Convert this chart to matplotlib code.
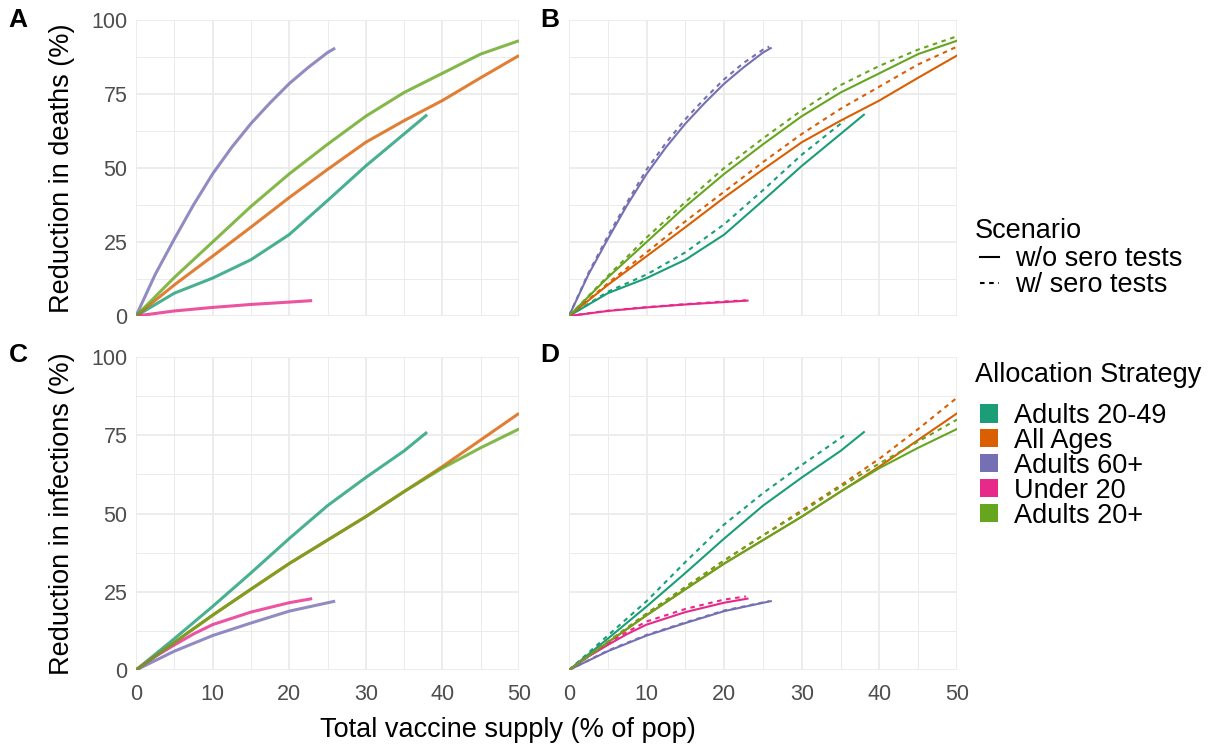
import numpy as np
import matplotlib
matplotlib.use("Agg")
import matplotlib.pyplot as plt
from matplotlib.lines import Line2D
from matplotlib.patches import Patch

plt.rcParams["font.family"] = ["Liberation Sans", "DejaVu Sans"]

# Allocation strategies and colours (Dark2)
strategies = ["Adults 20-49", "All Ages", "Adults 60+", "Under 20", "Adults 20+"]
colors = ["#1B9E77", "#D95F02", "#7570B3", "#E7298A", "#66A61E"]
scenarios = ["w/o sero tests", "w/ sero tests"]

# Reduction in deaths, without serological tests
deaths_x_2049 = [0, 5, 10, 15, 20, 25, 30, 35, 38]
deaths_y_2049 = [0, 7.7, 12.8, 19, 27.5, 39, 50.7, 61.5, 68]
deaths_x_all = [0, 5, 10, 15, 20, 25, 30, 35, 40, 45, 50]
deaths_y_all = [0, 10.5, 20.2, 30, 40, 49.5, 58.7, 66, 72.8, 80.5, 88]
deaths_x_60 = [0, 2.5, 5, 7.5, 10, 12.5, 15, 17.5, 20, 22.5, 25, 26]
deaths_y_60 = [0, 14, 26, 37.5, 48, 57, 65, 72, 78.5, 84, 89, 90.5]
deaths_x_u20 = [0, 5, 10, 15, 20, 23]
deaths_y_u20 = [0, 1.7, 2.9, 3.9, 4.7, 5.2]
deaths_x_20p = [0, 5, 10, 15, 20, 25, 30, 35, 40, 45, 50]
deaths_y_20p = [0, 13, 25, 37, 48, 58, 67.5, 75.5, 82, 88.5, 93]

# Reduction in deaths, with serological tests
deaths_sero_x_2049 = [0, 5, 10, 15, 20, 25, 30, 35.5]
deaths_sero_y_2049 = [0, 8.2, 14, 21.5, 31, 42.5, 54.5, 66]
deaths_sero_x_all = [0, 5, 10, 15, 20, 25, 30, 35, 40, 45, 50]
deaths_sero_y_all = [0, 11, 21.5, 32, 42, 52, 61.5, 70, 77.5, 85, 91]
deaths_sero_x_60 = [0, 2.5, 5, 7.5, 10, 12.5, 15, 17.5, 20, 22.5, 25, 25.8]
deaths_sero_y_60 = [0, 14.5, 27, 38.5, 49.5, 58.5, 66.5, 73.5, 80, 85.5, 90, 91]
deaths_sero_x_u20 = [0, 5, 10, 15, 20, 22.8]
deaths_sero_y_u20 = [0, 1.8, 3.0, 4.0, 4.9, 5.3]
deaths_sero_x_20p = [0, 5, 10, 15, 20, 25, 30, 35, 40, 45, 50]
deaths_sero_y_20p = [0, 13.5, 26.5, 38.5, 50, 60, 69.5, 78, 84.5, 90, 94.5]

# Reduction in infections, without serological tests
inf_x_2049 = [0, 5, 10, 15, 20, 25, 30, 35, 38]
inf_y_2049 = [0, 10, 20.3, 31, 42, 52.5, 61.5, 70, 76]
inf_x_all = [0, 5, 10, 15, 20, 25, 30, 35, 40, 45, 50]
inf_y_all = [0, 8.8, 17.5, 25.8, 34, 41.5, 49, 57, 65, 73.5, 82]
inf_x_60 = [0, 5, 10, 15, 20, 26]
inf_y_60 = [0, 6, 11, 15, 18.8, 22]
inf_x_u20 = [0, 2.5, 5, 7.5, 10, 15, 20, 23]
inf_y_u20 = [0, 4.3, 8, 11.5, 14.5, 18.5, 21.5, 22.8]
inf_x_20p = [0, 5, 10, 15, 20, 25, 30, 35, 40, 45, 50]
inf_y_20p = [0, 8.8, 17.5, 25.8, 34, 41.5, 49, 57, 64.5, 71, 77]

# Reduction in infections, with serological tests
inf_sero_x_2049 = [0, 5, 10, 15, 20, 25, 30, 35.5]
inf_sero_y_2049 = [0, 11, 22, 34.5, 46.5, 56.5, 65.5, 75]
inf_sero_x_all = [0, 5, 10, 15, 20, 25, 30, 35, 40, 45, 50]
inf_sero_y_all = [0, 9, 18, 26.5, 35, 43, 51, 59, 67.5, 77, 87]
inf_sero_x_60 = [0, 5, 10, 15, 20, 25.8]
inf_sero_y_60 = [0, 6.2, 11.2, 15.2, 19, 22]
inf_sero_x_u20 = [0, 2.5, 5, 7.5, 10, 15, 20, 22.8]
inf_sero_y_u20 = [0, 4.5, 8.5, 12.2, 15.5, 19.5, 22.5, 23.5]
inf_sero_x_20p = [0, 5, 10, 15, 20, 25, 30, 35, 40, 45, 50]
inf_sero_y_20p = [0, 9, 18, 26.5, 35, 43, 50.5, 58.5, 66, 73, 80]

deaths = [(deaths_x_2049, deaths_y_2049), (deaths_x_all, deaths_y_all),
          (deaths_x_60, deaths_y_60), (deaths_x_u20, deaths_y_u20),
          (deaths_x_20p, deaths_y_20p)]
deaths_sero = [(deaths_sero_x_2049, deaths_sero_y_2049), (deaths_sero_x_all, deaths_sero_y_all),
               (deaths_sero_x_60, deaths_sero_y_60), (deaths_sero_x_u20, deaths_sero_y_u20),
               (deaths_sero_x_20p, deaths_sero_y_20p)]
infections = [(inf_x_2049, inf_y_2049), (inf_x_all, inf_y_all),
              (inf_x_60, inf_y_60), (inf_x_u20, inf_y_u20),
              (inf_x_20p, inf_y_20p)]
infections_sero = [(inf_sero_x_2049, inf_sero_y_2049), (inf_sero_x_all, inf_sero_y_all),
                   (inf_sero_x_60, inf_sero_y_60), (inf_sero_x_u20, inf_sero_y_u20),
                   (inf_sero_x_20p, inf_sero_y_20p)]

W, H = 1214, 747
fig = plt.figure(figsize=(W / 100, H / 100), dpi=100)


def px_axes(left, top, right, bottom):
    return fig.add_axes([left / W, 1 - bottom / H, (right - left) / W, (bottom - top) / H])


ax_a = px_axes(136, 20, 519, 316)
ax_b = px_axes(569, 20, 957, 316)
ax_c = px_axes(136, 357, 519, 670)
ax_d = px_axes(569, 357, 957, 670)

DASH = (2.2, 2.2)

for ax in (ax_a, ax_b, ax_c, ax_d):
    ax.set_xlim(0, 50)
    ax.set_ylim(0, 100)
    ax.set_xticks([0, 10, 20, 30, 40, 50])
    ax.set_xticks([5, 15, 25, 35, 45], minor=True)
    ax.set_yticks([0, 25, 50, 75, 100])
    ax.set_yticks([12.5, 37.5, 62.5, 87.5], minor=True)
    ax.grid(which="major", color="#EBEBEB", lw=1.3)
    ax.grid(which="minor", color="#EBEBEB", lw=0.7)
    ax.set_axisbelow(True)
    for s in ax.spines.values():
        s.set_visible(False)
    ax.tick_params(which="both", length=0, labelsize=15.5, labelcolor="#4D4D4D", pad=6)
    ax.tick_params(axis="x", pad=10)

for ax in (ax_a, ax_b):
    ax.tick_params(labelbottom=False)
for ax in (ax_b, ax_d):
    ax.tick_params(labelleft=False)

# Panels A and C: without tests only
for ax, data in ((ax_a, deaths), (ax_c, infections)):
    for (x, y), c in zip(data, colors):
        ax.plot(x, y, color=c, lw=2.2, alpha=0.8, solid_capstyle="butt")

# Panels B and D: both scenarios
for ax, solid, dashed in ((ax_b, deaths, deaths_sero), (ax_d, infections, infections_sero)):
    for (x, y), c in zip(solid, colors):
        ax.plot(x, y, color=c, lw=1.5)
    for (x, y), c in zip(dashed, colors):
        ax.plot(x, y, color=c, lw=1.5, ls=(0, DASH))

ax_a.set_ylabel("Reduction in deaths (%)", fontsize=19.5, labelpad=12)
ax_c.set_ylabel("Reduction in infections (%)", fontsize=19.5, labelpad=12)
fig.text(508 / W, 1 - 730 / H, "Total vaccine supply (% of pop)", fontsize=19.5,
         ha="center", va="center")

for lab, xp, yp in (("A", 18, 20), ("B", 550, 20), ("C", 18, 355), ("D", 550, 355)):
    fig.text(xp / W, 1 - yp / H, lab, fontsize=19, fontweight="bold", ha="center", va="center")

# Legends
fig.text(975 / W, 1 - 231 / H, "Scenario", fontsize=19.5, ha="left", va="center")
scen_handles = [Line2D([], [], color="black", lw=1.5),
                Line2D([], [], color="black", lw=1.5, ls=(0, DASH))]
fig.legend(scen_handles, scenarios, loc="upper left", bbox_to_anchor=(980 / W, 1 - 246 / H),
           frameon=False, fontsize=19.5, handlelength=0.7, handletextpad=0.6,
           labelspacing=0.0, borderpad=0, borderaxespad=0)

fig.text(975 / W, 1 - 375 / H, "Allocation Strategy", fontsize=19.5, ha="left", va="center")
strat_handles = [Patch(facecolor=c, edgecolor="none") for c in colors]
fig.legend(strat_handles, strategies, loc="upper left", bbox_to_anchor=(980 / W, 1 - 403 / H),
           frameon=False, fontsize=19.5, handlelength=0.65, handleheight=0.65,
           handletextpad=0.6, labelspacing=-0.04, borderpad=0, borderaxespad=0)

fig.savefig("out.png", dpi=100)
